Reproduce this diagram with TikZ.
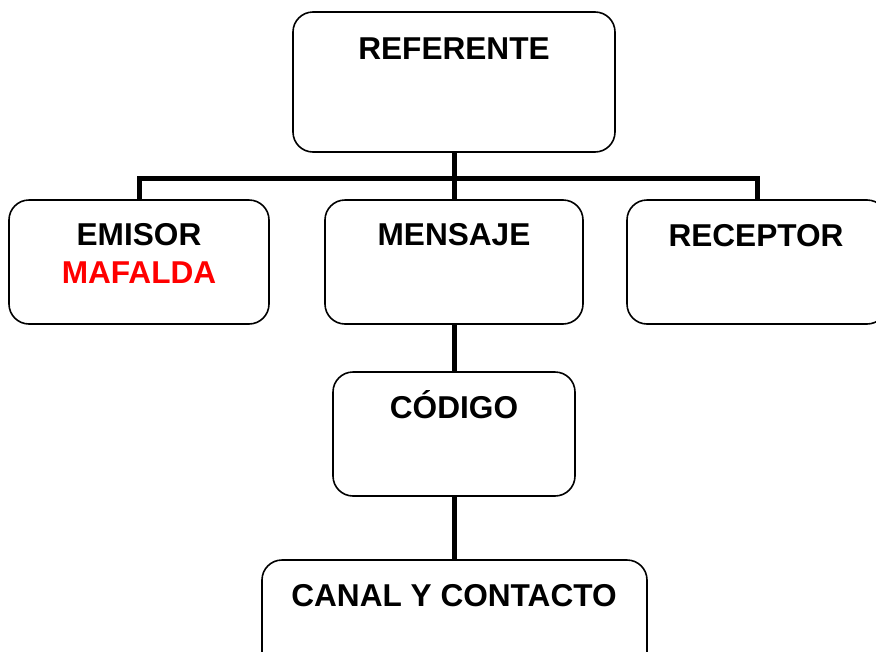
\documentclass[tikz,border=0pt]{standalone}
\usepackage{fontspec}
\setmainfont{Liberation Sans}
\begin{document}
\begin{tikzpicture}[x=1pt,y=-1pt,
  box/.style={draw, line width=1.6pt, rounded corners=20pt, fill=white, inner sep=0pt},
  lbl/.style={font=\fontsize{31.6}{36}\selectfont\bfseries, anchor=base, inner sep=0pt},
  conn/.style={line width=5pt, line join=miter}]
\useasboundingbox (0,0) rectangle (876,651);
\clip (0,0) rectangle (876,651);
% boxes
\node[box, minimum width=322pt, minimum height=140pt] (ref) at (454,82) {};
\node[box, minimum width=260pt, minimum height=124pt] (emi) at (139,262) {};
\node[box, minimum width=258pt, minimum height=124pt] (men) at (454,262) {};
\node[box, minimum width=260pt, minimum height=124pt] (rec) at (757,262) {};
\node[box, minimum width=242pt, minimum height=124pt] (cod) at (454,434) {};
\node[box, minimum width=385pt, minimum height=124pt] (can) at (454.5,622) {};
% labels
\node[lbl] (reft) at (454,59) {REFERENTE};
\node[lbl] (emit) at (139,245) {EMISOR};
\node[lbl, text={rgb,255:red,255;green,0;blue,0}] (emin) at (139,283) {MAFALDA};
\node[lbl] (ment) at (454,245) {MENSAJE};
\node[lbl] (rect) at (756,246) {RECEPTOR};
\node[lbl] (codt) at (454,418) {CÓDIGO};
\node[lbl] (cant) at (454,606) {CANAL Y CONTACTO};
% connectors
\coordinate (bar) at (454,178);
\draw[conn] (ref.south) -- (men.north);
\draw[conn] (emi.north) |- (bar) -| (rec.north);
\draw[conn] (men.south) -- (cod.north);
\draw[conn] (cod.south) -- (cod.south |- can.north);
\end{tikzpicture}
\end{document}
